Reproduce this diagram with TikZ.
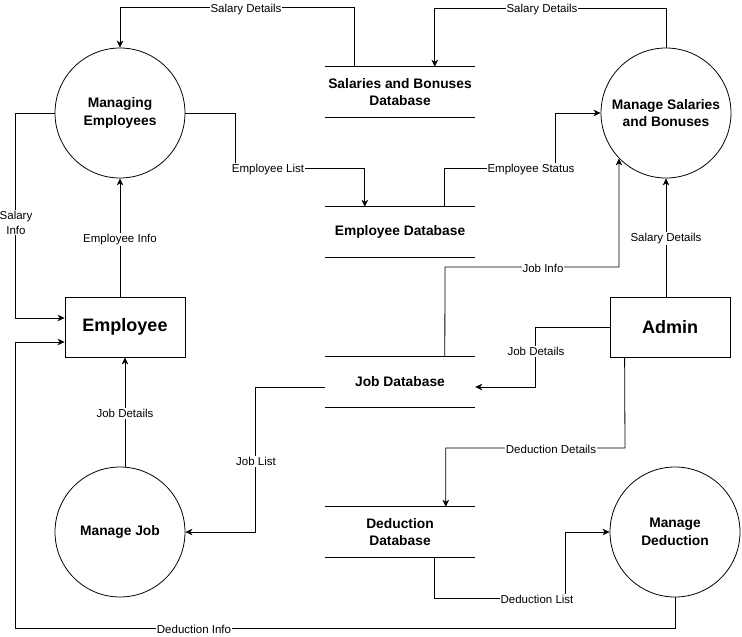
\documentclass[tikz,border=0pt]{standalone}
\usepackage{fontspec}
\setmainfont{Liberation Sans}
\usetikzlibrary{arrows.meta}
\tikzset{
  proc/.style={draw, circle, minimum size=130pt, inner sep=0pt, line width=0.8pt, align=center, font=\fontsize{13.8}{17.5}\selectfont\bfseries},
  ent/.style={draw, rectangle, minimum width=120pt, minimum height=60pt, inner sep=0pt, line width=0.8pt, font=\fontsize{18}{22}\selectfont\bfseries},
  store/.style={rectangle, minimum width=150pt, minimum height=50pt, inner sep=0pt, align=center, font=\fontsize{13.8}{17}\selectfont\bfseries},
  sline/.style={line width=0.8pt},
  arr/.style={line width=0.8pt, -{Stealth[length=7pt,width=6.5pt,inset=2pt]}},
  lbl/.style={fill=white, inner sep=1pt, align=center, yshift=-1.5pt, font=\fontsize{11.5}{14}\selectfont},
}
\begin{document}
\begin{tikzpicture}[x=1pt,y=-1pt]
\useasboundingbox[fill=white] (0,0) rectangle (742,637);
% processes
\node[proc] (me) at (120,113) {Managing\\Employees};
\node[proc] (ms) at (666,113) {Manage Salaries\\and Bonuses};
\node[proc] (mj) at (120,532) {Manage Job};
\node[proc] (md) at (675,532) {Manage\\Deduction};
% entities
\node[ent] (emp) at (125,327) {Employee};
\node[ent] (adm) at (670,327) {Admin};
% data stores
\node[store] (sdb) at (400,92) {Salaries and Bonuses\\Database};
\node[store] (edb) at (400,232) {Employee Database};
\node[store] (jdb) at (400,382) {Job Database};
\node[store] (ddb) at (400,532) {Deduction\\Database};
\foreach \s in {sdb,edb,jdb,ddb}{
  \draw[sline] (\s.north west) -- (\s.north east) (\s.south west) -- (\s.south east);
}
% connectors
\draw[arr] ([xshift=30pt]sdb.north west) -- ++(0,-59) -| (me.north);
\draw[arr] (ms.north) -- (ms.north |- 0,8) -| ([xshift=110pt]sdb.north west);
\draw[arr] (me.east) -| (235,168) -| ([xshift=40pt]edb.north west);
\draw[arr] ([xshift=120pt]edb.north west) |- (555,168) |- (ms.west);
\draw[arr] ([xshift=120pt]jdb.north west) -- (445,267) -| (ms.-136);
\draw[arr] (adm.north -| ms.south) -- (ms.south);
\draw[arr] (adm.west) -| (535,387) -- ([yshift=-5pt]jdb.east);
\draw[arr] ([xshift=15pt]adm.south west) -- (625,448) -| ([xshift=121pt]ddb.north west);
\draw[arr] ([yshift=-5pt]jdb.west) -| (255,532) -- (mj.east);
\draw[arr] (emp.south |- mj.north) -- (emp.south);
\draw[arr] (me.south |- emp.north) -- (me.south);
\draw[arr] (me.west) -| (15,318) -- ([yshift=9pt]emp.west);
\draw[arr] (md.south) -- (md.south |- 0,628) -| (15,342) -- ([yshift=-15pt]emp.west);
\draw[arr] ([xshift=110pt]ddb.south west) |- (565,598) |- (md.west);
% labels
\node[lbl] (l1) at (246,8) {Salary Details};
\node[lbl] (l2) at (542,8) {Salary Details};
\node[lbl] (l3) at (268,168) {Employee List};
\node[lbl] (l4) at (531,168) {Employee Status};
\node[lbl] (l5) at (543,267) {Job Info};
\node[lbl] (l6) at (666,237) {Salary Details};
\node[lbl] (l7) at (536,350) {Job Details};
\node[lbl] (l8) at (551,448) {Deduction Details};
\node[lbl] (l9) at (256,460) {Job List};
\node[lbl] (l10) at (125,412) {Job Details};
\node[lbl] (l11) at (120,238) {Employee Info};
\node[lbl, font=\fontsize{11.5}{15}\selectfont] (l12) at (16,221) {Salary\\Info};
\node[lbl] (l13) at (194,628) {Deduction Info};
\node[lbl] (l14) at (537,598) {Deduction List};
\end{tikzpicture}
\end{document}
